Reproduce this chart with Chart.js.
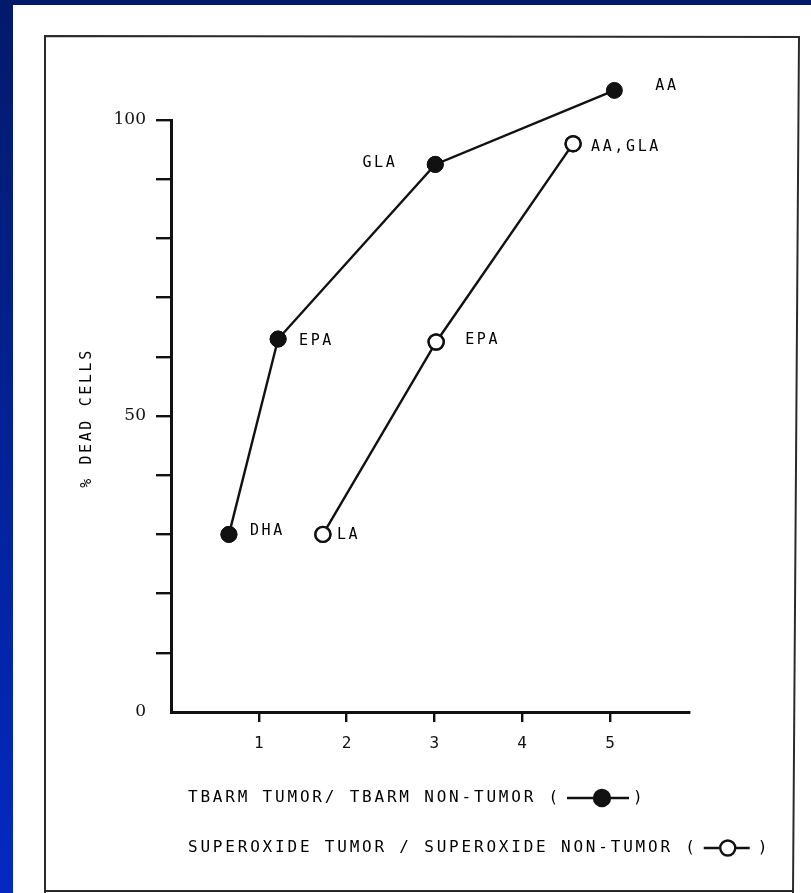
<!DOCTYPE html>
<html>
<head>
<meta charset="utf-8">
<script src="https://cdn.jsdelivr.net/npm/chart.js@4.4.1/dist/chart.umd.min.js"></script>
<style>
  html, body { margin: 0; padding: 0; background: #fff; overflow: hidden; }
  #wrap { position: relative; width: 811px; height: 893px; }
</style>
</head>
<body>
<div id="wrap"><canvas id="chart"></canvas></div>
<script>
// TBARM tumor / non-tumor ratio vs % dead cells (filled markers)
const tbarmX = [0.66, 1.22, 3.01, 5.05];
const tbarmY = [30, 63, 92.5, 105];
const tbarmNames = ["DHA", "EPA", "GLA", "AA"];

// superoxide tumor / non-tumor ratio vs % dead cells (open markers)
const superoxideX = [1.73, 3.02, 4.58];
const superoxideY = [30, 62.5, 96];
const superoxideNames = ["LA", "EPA", "AA,GLA"];

const xTickValues = [1, 2, 3, 4, 5];
const yTickValues = [0, 10, 20, 30, 40, 50, 60, 70, 80, 90, 100];
const yTickLabels = [0, 50, 100];

const yAxisTitle = "% DEAD CELLS";
const legendLines = [
  "TBARM TUMOR/ TBARM NON-TUMOR (",
  "SUPEROXIDE TUMOR / SUPEROXIDE NON-TUMOR ("
];

// label placement next to each marker (style only)
const tbarmLabelPos = [
  { dx: 21, dy: -3 },
  { dx: 21, dy: 2 },
  { dx: -38, dy: -1, align: "right" },
  { dx: 41, dy: -4 }
];
const superoxideLabelPos = [
  { dx: 14, dy: 1 },
  { dx: 29, dy: -2 },
  { dx: 18, dy: 3 }
];

const ink = "#111";
const mono = '"DejaVu Sans Mono", monospace';

function points(xs, ys) {
  return xs.map((x, i) => ({ x: x, y: ys[i] }));
}

function typewriter(ctx, size, spacing) {
  ctx.font = size + "px " + mono;
  ctx.letterSpacing = spacing + "px";
  ctx.fillStyle = "#000";
  ctx.textBaseline = "middle";
}

const paper = {
  id: "paper",
  beforeDraw(chart) {
    const ctx = chart.ctx;
    const w = chart.width, h = chart.height;
    ctx.save();
    const g = ctx.createLinearGradient(0, 0, 0, h);
    g.addColorStop(0, "#021a6c");
    g.addColorStop(1, "#0329c2");
    ctx.fillStyle = g;
    ctx.fillRect(0, 0, w, h);
    ctx.fillStyle = "#fff";
    ctx.fillRect(13, 5, w - 13, h - 5);
    ctx.strokeStyle = "#2a2a2a";
    ctx.lineWidth = 2;
    ctx.beginPath();
    ctx.moveTo(45, 893);
    ctx.lineTo(45, 36);
    ctx.lineTo(799, 37);
    ctx.lineTo(793, 893);
    ctx.moveTo(45, 891);
    ctx.lineTo(793, 891);
    ctx.stroke();
    ctx.restore();
  }
};

const notes = {
  id: "notes",
  afterDatasetsDraw(chart) {
    const ctx = chart.ctx;
    ctx.save();

    // the AA point sits above the 100 tick: let the point elements draw outside the plot area
    const page = { left: 0, top: 0, right: chart.width, bottom: chart.height };
    [0, 1].forEach((di) => chart.getDatasetMeta(di).data.forEach((pt) => pt.draw(ctx, page)));

    typewriter(ctx, 15, 2.6);
    [[0, tbarmNames, tbarmLabelPos], [1, superoxideNames, superoxideLabelPos]].forEach(([di, names, pos]) => {
      chart.getDatasetMeta(di).data.forEach((pt, i) => {
        ctx.textAlign = pos[i].align || "left";
        ctx.fillText(names[i], pt.x + pos[i].dx, pt.y + pos[i].dy);
      });
    });

    // y axis title
    ctx.save();
    ctx.translate(87, 418);
    ctx.rotate(-Math.PI / 2);
    ctx.textAlign = "center";
    ctx.fillText(yAxisTitle, 0, 0);
    ctx.restore();

    // legend lines with hand-drawn markers
    typewriter(ctx, 16, 2.8);
    ctx.textAlign = "left";
    const legendY = [798, 848];
    const spec = [
      { d1: [6, 32], c: 41, r: 8, d2: [50, 68], close: 72, fill: ink },
      { d1: [6, 22], c: 30, r: 7.5, d2: [38, 52], close: 60, fill: "#fff" }
    ];
    legendLines.forEach((txt, i) => {
      const y = legendY[i];
      ctx.fillText(txt, 188, y);
      const end = 188 + ctx.measureText(txt).width;
      const s = spec[i];
      ctx.strokeStyle = ink;
      ctx.lineWidth = 2.4;
      ctx.beginPath();
      ctx.moveTo(end + s.d1[0], y);
      ctx.lineTo(end + s.d1[1], y);
      ctx.moveTo(end + s.d2[0], y);
      ctx.lineTo(end + s.d2[1], y);
      ctx.stroke();
      ctx.beginPath();
      ctx.arc(end + s.c, y, s.r, 0, Math.PI * 2);
      ctx.fillStyle = s.fill;
      ctx.fill();
      ctx.stroke();
      ctx.fillStyle = "#000";
      ctx.fillText(")", end + s.close, y);
    });

    ctx.restore();
  }
};

new Chart(document.getElementById("chart"), {
  type: "scatter",
  data: {
    datasets: [
      {
        label: "TBARM",
        data: points(tbarmX, tbarmY),
        showLine: true,
        borderColor: ink,
        borderWidth: 2.4,
        pointRadius: 8,
        pointBackgroundColor: ink,
        pointBorderColor: ink,
        pointBorderWidth: 1,
        clip: false
      },
      {
        label: "Superoxide",
        data: points(superoxideX, superoxideY),
        showLine: true,
        borderColor: ink,
        borderWidth: 2.4,
        pointRadius: 7.5,
        pointBackgroundColor: "#fff",
        pointBorderColor: ink,
        pointBorderWidth: 2.4,
        clip: false
      }
    ]
  },
  options: {
    responsive: true,
    maintainAspectRatio: false,
    animation: false,
    layout: { padding: { left: 0, top: 120, right: 122, bottom: 0 } },
    plugins: { legend: { display: false }, tooltip: { enabled: false } },
    scales: {
      x: {
        type: "linear",
        min: 0,
        max: 5.9,
        afterBuildTicks: (s) => { s.ticks = xTickValues.map((v) => ({ value: v })); },
        afterFit: (s) => { s.height = 181; },
        border: { display: true, color: ink, width: 3 },
        grid: { display: true, drawOnChartArea: false, drawTicks: true, tickLength: 10, color: ink, lineWidth: 2.4 },
        ticks: { color: "#111", padding: 12, autoSkip: false, maxRotation: 0, font: { family: mono, size: 16 } }
      },
      y: {
        min: 0,
        max: 100,
        afterBuildTicks: (s) => { s.ticks = yTickValues.map((v) => ({ value: v })); },
        afterFit: (s) => { s.width = 171; },
        border: { display: true, color: ink, width: 3 },
        grid: {
          display: true,
          drawOnChartArea: false,
          drawTicks: true,
          tickLength: 15,
          lineWidth: 2.4,
          color: (c) => (c.tick && c.tick.value === 0 ? "rgba(0,0,0,0)" : ink)
        },
        ticks: {
          color: "#111",
          padding: 10,
          autoSkip: false,
          font: { family: '"DejaVu Serif", serif', size: 17 },
          callback: (v) => (yTickLabels.includes(v) ? String(v) : "")
        }
      }
    }
  },
  plugins: [paper, notes]
});
</script>
</body>
</html>
